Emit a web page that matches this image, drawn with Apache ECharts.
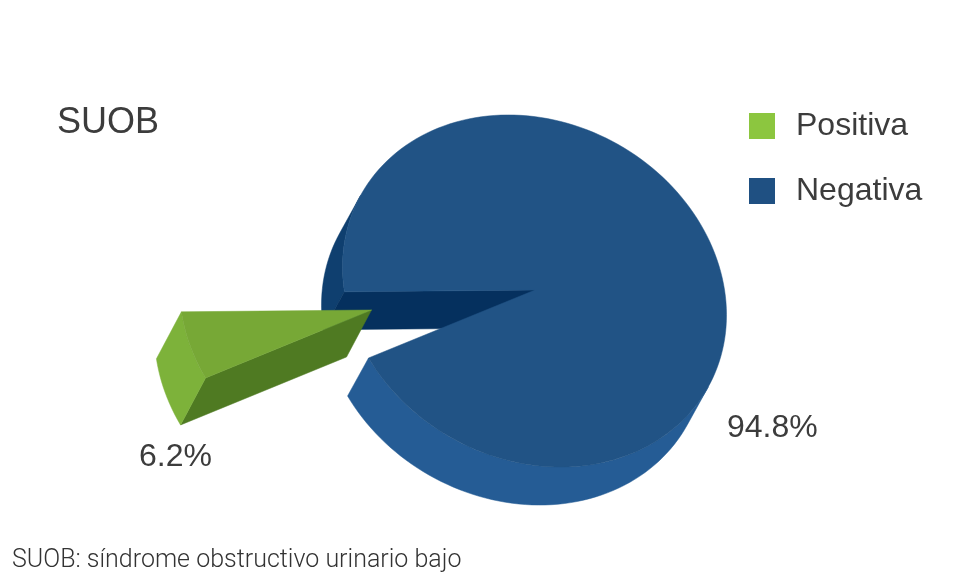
<!DOCTYPE html>
<html>
<head>
<meta charset="utf-8">
<title>SUOB</title>
<style>
  html, body { margin: 0; padding: 0; background: #fff; }
  #chart { width: 966px; height: 587px; }
</style>
<script src="https://cdn.jsdelivr.net/npm/echarts@6/dist/echarts.min.js"></script>
</head>
<body>
<div id="chart"></div>
<script>
const categories = ['Positiva', 'Negativa']
const values = [6.2, 94.8]
const valueLabels = ['6.2%', '94.8%']
const legendColors = ['#8cc63f', '#1f5082']

const titleText = 'SUOB'
const footnote = 'SUOB: síndrome obstructivo urinario bajo'

// tilted ellipse of the pie's top face
const pie = { cx: 534.5, cy: 291, rx: 192, ry: 174.4, shear: 24, startAngle: 149.8 }
const total = values.reduce((a, b) => a + b, 0)
const sweep = values.map((v) => (v / total) * 360)

function rim(deg, off) {
  const t = (deg * Math.PI) / 180
  return [
    pie.cx + pie.rx * Math.cos(t) + off[0],
    pie.cy + pie.ry * Math.sin(t) + pie.shear * Math.cos(t) + off[1],
  ]
}

function arc(from, to, off) {
  const pts = []
  const steps = Math.max(2, Math.ceil(Math.abs(to - from) / 2))
  for (let i = 0; i <= steps; i++) {
    pts.push(rim(from + ((to - from) * i) / steps, off))
  }
  return pts
}

function poly(points, fill) {
  return { type: 'polygon', shape: { points }, style: { fill, stroke: fill, lineWidth: 0.5 } }
}

function add(a, b) {
  return [a[0] + b[0], a[1] + b[1]]
}

function label(text, x, y) {
  return {
    type: 'text',
    style: { x, y, text, fill: '#3c3c3c', font: '32px "Liberation Sans Narrow", sans-serif' },
  }
}

function renderPositive() {
  const from = pie.startAngle
  const to = from + sweep[0]
  const off = [-163, 20]
  const depth = [-25, 47]
  const apex = [pie.cx + off[0], pie.cy + off[1] - 1]
  const top = arc(from, to, off)
  const lower = arc(from, to, add(off, depth))
  return {
    type: 'group',
    children: [
      poly([apex, rim(from, off), rim(from, add(off, depth)), add(apex, depth)], '#4f7a22'),
      poly(top.concat(lower.slice().reverse()), '#7db23a'),
      poly([apex].concat(top), '#77a836'),
      label(valueLabels[0], 139, 441),
    ],
  }
}

function renderNegative() {
  const from = pie.startAngle + sweep[0]
  const to = pie.startAngle + 360
  const depth = [-21, 38]
  const apex = [pie.cx + 0.5, pie.cy - 1]
  const none = [0, 0]
  // tangent angles of the extruded outline
  const backEnd = 205.1
  const frontEnd = 385.1
  const back = arc(from, backEnd, none)
  const backLow = arc(from, backEnd, depth)
  const front = arc(frontEnd, to, none)
  const frontLow = arc(frontEnd, to, depth)
  return {
    type: 'group',
    children: [
      poly(back.concat(backLow.slice().reverse()), '#0f3f6f'),
      poly([apex, rim(from, none), rim(from, depth), add(apex, depth)], '#05305e'),
      poly(front.concat(frontLow.slice().reverse()), '#255c95'),
      poly([apex].concat(arc(from, to, none)), '#215385'),
      label(valueLabels[1], 727, 412),
    ],
  }
}

const chart = echarts.init(document.getElementById('chart'))

chart.setOption({
  animation: false,
  backgroundColor: '#fff',
  title: [
    {
      text: titleText,
      left: 52,
      top: 100,
      textStyle: { color: '#3c3c3c', fontSize: 36, fontWeight: 'normal', fontFamily: '"Liberation Sans Narrow", sans-serif' },
    },
    {
      text: footnote,
      left: 7,
      top: 543,
      textStyle: { color: '#333', fontSize: 25, fontWeight: 300, fontFamily: 'Roboto, sans-serif' },
    },
  ],
  legend: {
    data: categories,
    orient: 'vertical',
    left: 744,
    top: 105,
    icon: 'rect',
    itemWidth: 26,
    itemHeight: 26,
    itemGap: 33,
    selectedMode: false,
    textStyle: { color: '#3c3c3c', fontSize: 32, padding: [0, 0, 0, 16], fontFamily: '"Liberation Sans Narrow", sans-serif' },
  },
  series: [
    {
      type: 'custom',
      name: categories[1],
      coordinateSystem: 'none',
      itemStyle: { color: legendColors[1] },
      data: [values[1]],
      silent: true,
      renderItem: renderNegative,
    },
    {
      type: 'custom',
      name: categories[0],
      coordinateSystem: 'none',
      itemStyle: { color: legendColors[0] },
      data: [values[0]],
      silent: true,
      renderItem: renderPositive,
    },
  ],
})
</script>
</body>
</html>
